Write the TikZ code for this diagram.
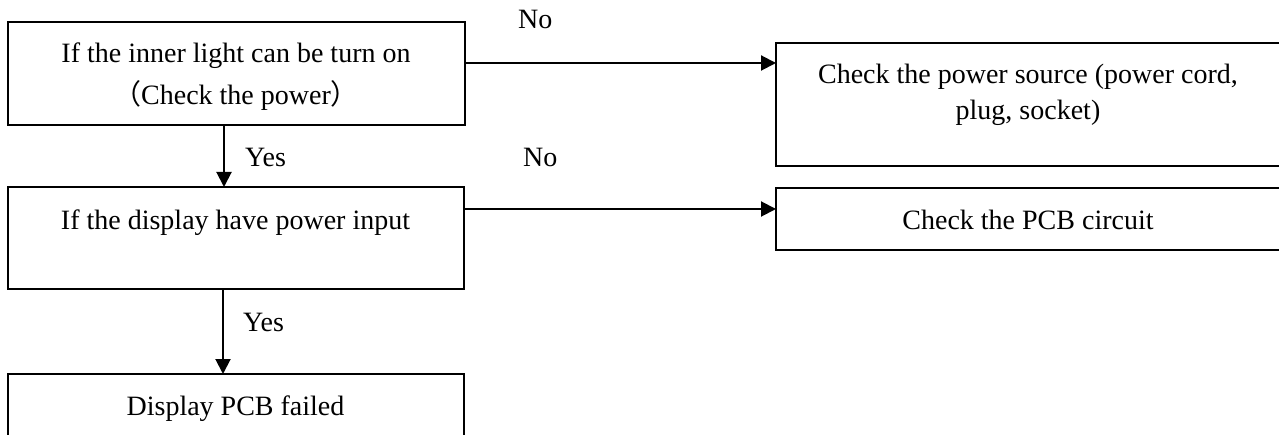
\documentclass[tikz,border=0pt]{standalone}
\usepackage{fontspec}
\setmainfont{Liberation Serif}
\newfontfamily\cjk{Noto Sans CJK SC}
\usetikzlibrary{arrows.meta,calc}
\begin{document}
\begin{tikzpicture}[x=1pt,y=-1pt,
  font=\fontsize{28}{33}\selectfont,
  box/.style={draw,line width=2pt,inner sep=0pt,outer sep=0pt,anchor=north west},
  lbl/.style={inner sep=0pt,anchor=base},
  tag/.style={inner sep=0pt,anchor=base west},
  arr/.style={line width=2pt,-{Triangle[length=15pt,width=15pt]}}]
\useasboundingbox (0,0) rectangle (1279,435);

% boxes
\node[box,minimum width=457pt,minimum height=103pt] (b1) at (7.5,22) {};
\node[box,minimum width=456pt,minimum height=102pt] (b2) at (7.5,187) {};
\node[box,minimum width=456pt,minimum height=80pt]  (b3) at (7.5,374) {};
\node[box,minimum width=510pt,minimum height=123pt] (bA) at (776,43) {};
\node[box,minimum width=510pt,minimum height=62pt]  (bB) at (776,188) {};

% box texts
\node[lbl] (t1) at ($(b1.north)+(0,41)$) {If the inner light can be turn on};
\node[lbl] (t2) at ($(b1.north)+(0,83)$) {{\cjk （}Check the power{\cjk ）}};
\node[lbl] (t3) at ($(bA.north west)+(252,41)$) {Check the power source (power cord,};
\node[lbl] (t4) at ($(bA.north west)+(252,77)$) {plug, socket)};
\node[lbl] (t5) at ($(b2.north)+(0,43)$) {If the display have power input};
\node[lbl] (t6) at ($(bB.north west)+(252,42)$) {Check the PCB circuit};
\node[lbl] (t7) at ($(b3.north)+(0,41)$) {Display PCB failed};

% connectors
\coordinate (s1) at ($(b1.north east)+(0,41)$);
\draw[arr] (s1) -- (s1 -| bA.west);
\coordinate (s2) at ($(b2.north east)+(0,22)$);
\draw[arr] (s2) -- (s2 -| bB.west);
\coordinate (s3) at ($(b1.south west)+(216.5,0)$);
\draw[arr] (s3) -- (s3 |- b2.north);
\coordinate (s4) at ($(b2.south west)+(215.5,0)$);
\draw[arr] (s4) -- (s4 |- b3.north);

% branch labels
\node[tag] (no1)  at (518,29)  {No};
\node[tag] (yes1) at (245,167) {Yes};
\node[tag] (no2)  at (523,167) {No};
\node[tag] (yes2) at (243,331) {Yes};
\end{tikzpicture}
\end{document}
